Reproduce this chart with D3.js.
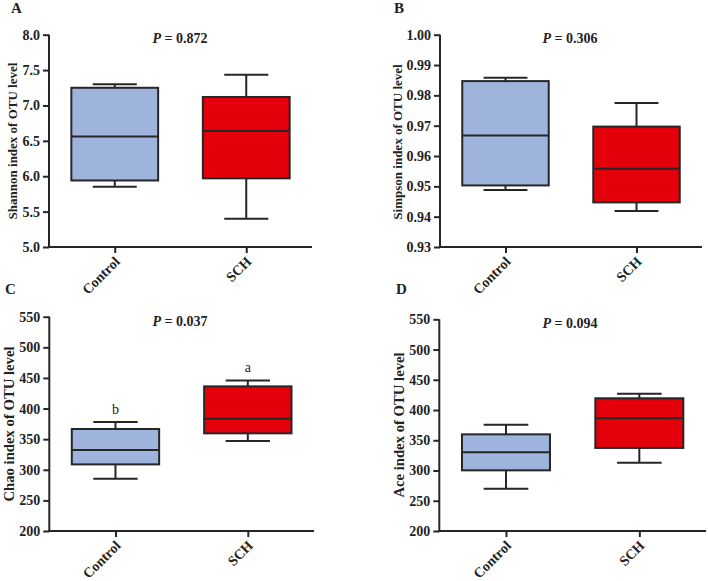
<!DOCTYPE html>
<html>
<head>
<meta charset="utf-8">
<script src="https://cdn.jsdelivr.net/npm/d3@7"></script>
<style>
  html, body { margin: 0; padding: 0; background: #fff; }
  svg { display: block; }
  text { font-family: "Liberation Serif", "Times New Roman", serif; fill: #222; }
</style>
</head>
<body>
<svg id="chart" width="708" height="581"></svg>
<script>
// ---- data ----
const groups = ["Control", "SCH"];
// [whiskerLow, q1, median, q3, whiskerHigh]
const shannonControl = [5.85, 5.94, 6.56, 7.25, 7.30];
const shannonSCH     = [5.40, 5.97, 6.64, 7.12, 7.435];
const simpsonControl = [0.9488, 0.9503, 0.9668, 0.9847, 0.9858];
const simpsonSCH     = [0.9419, 0.9447, 0.9558, 0.9697, 0.9775];
const chaoControl    = [285.4, 308.8, 332.3, 366.6, 378];
const chaoSCH        = [347, 359.5, 383.4, 436.2, 446];
const aceControl     = [270, 300.3, 330, 359.8, 375.8];
const aceSCH         = [313, 337.3, 386.3, 419.4, 427];
const shannonTicks = [5.0, 5.5, 6.0, 6.5, 7.0, 7.5, 8.0];
const simpsonTicks = [0.93, 0.94, 0.95, 0.96, 0.97, 0.98, 0.99, 1.00];
const countTicks   = [200, 250, 300, 350, 400, 450, 500, 550];
const panelLetters = ["A", "B", "C", "D"];
const yTitles = ["Shannon index of OTU level", "Simpson index of OTU level", "Chao index of OTU level", "Ace index of OTU level"];
const pValues = ["0.872", "0.306", "0.037", "0.094"];
const sigLetters = [null, null, ["b", "a"], null];
const fills = ["#9fb4dc", "#e3000b"];

// ---- layout ----
const panels = [
  { data: [shannonControl, shannonSCH], ticks: shannonTicks, fmt: d3.format(".1f"),
    x0: 49, x1: 312, yTop: 34.7, yBot: 247, letter: [11, 13], title: [12.5, 141], titleSize: 13,
    pPos: [180, 43] },
  { data: [simpsonControl, simpsonSCH], ticks: simpsonTicks, fmt: d3.format(".2f"),
    x0: 440, x1: 702, yTop: 34.7, yBot: 247, letter: [394, 13], title: [397, 142], titleSize: 13,
    pPos: [570, 43] },
  { data: [chaoControl, chaoSCH], ticks: countTicks, fmt: d3.format("d"),
    x0: 49.3, x1: 314, yTop: 316.7, yBot: 531, letter: [5, 294], title: [9, 424], titleSize: 14.7,
    pPos: [180, 326] },
  { data: [aceControl, aceSCH], ticks: countTicks, fmt: d3.format("d"),
    x0: 439.3, x1: 706, yTop: 319.3, yBot: 531, letter: [396, 294], title: [399, 425], titleSize: 14.7,
    pPos: [570, 328] }
];

const svg = d3.select("#chart");
const stroke = "#262626";
const serif = '"Liberation Serif", "Times New Roman", serif';

panels.forEach((p, i) => {
  const g = svg.append("g");
  const y = d3.scaleLinear()
    .domain([p.ticks[0], p.ticks[p.ticks.length - 1]])
    .range([p.yBot, p.yTop]);
  const x = d3.scalePoint().domain(groups).range([p.x0, p.x1]).padding(0.5);
  const step = x.step();
  const bw = step * 0.66;
  const cw = step * 0.335;

  // boxes
  p.data.forEach((v, k) => {
    const cx = x(groups[k]);
    const [lo, q1, med, q3, hi] = v;
    const bg = g.append("g").attr("stroke", stroke).attr("stroke-width", 2);
    bg.append("line").attr("x1", cx).attr("x2", cx).attr("y1", y(hi)).attr("y2", y(q3));
    bg.append("line").attr("x1", cx).attr("x2", cx).attr("y1", y(q1)).attr("y2", y(lo));
    bg.append("line").attr("x1", cx - cw / 2).attr("x2", cx + cw / 2).attr("y1", y(hi)).attr("y2", y(hi));
    bg.append("line").attr("x1", cx - cw / 2).attr("x2", cx + cw / 2).attr("y1", y(lo)).attr("y2", y(lo));
    bg.append("rect").attr("x", cx - bw / 2).attr("width", bw)
      .attr("y", y(q3)).attr("height", y(q1) - y(q3)).attr("fill", fills[k]);
    bg.append("line").attr("x1", cx - bw / 2).attr("x2", cx + bw / 2).attr("y1", y(med)).attr("y2", y(med));
    if (sigLetters[i]) {
      g.append("text").attr("x", cx).attr("y", y(hi) - 8)
        .attr("text-anchor", "middle").style("font-size", "14px")
        .text(sigLetters[i][k]);
    }
  });

  // y axis
  const ya = g.append("g").attr("transform", `translate(${p.x0},0)`)
    .call(d3.axisLeft(y).tickValues(p.ticks).tickFormat(p.fmt).tickSize(6).tickPadding(3));
  ya.attr("font-family", serif);
  ya.select(".domain").attr("stroke", stroke).attr("stroke-width", 2).attr("d", `M0,${p.yTop}V${p.yBot}`);
  ya.selectAll(".tick line").attr("stroke", stroke).attr("stroke-width", 2);
  ya.selectAll(".tick text").style("font-size", "14px").style("font-weight", "bold")
    .style("font-family", serif).attr("fill", "#222");

  // x axis
  const xa = g.append("g").attr("transform", `translate(0,${p.yBot})`)
    .call(d3.axisBottom(x).tickSize(6).tickPadding(3));
  xa.attr("font-family", serif);
  xa.select(".domain").attr("stroke", stroke).attr("stroke-width", 2).attr("d", `M${p.x0 - 1},0H${p.x1}`);
  xa.selectAll(".tick line").attr("stroke", stroke).attr("stroke-width", 2);
  xa.selectAll(".tick text")
    .style("font-size", "14px").style("font-weight", "bold")
    .style("font-family", serif).attr("fill", "#222")
    .attr("text-anchor", "end").attr("dy", "0.35em")
    .attr("transform", "translate(2,12) rotate(-45)").attr("y", 0).attr("x", 0);

  // P label
  const pt = g.append("text").attr("x", p.pPos[0]).attr("y", p.pPos[1])
    .attr("text-anchor", "middle").style("font-size", "14px").style("font-weight", "bold");
  pt.append("tspan").style("font-style", "italic").text("P");
  pt.append("tspan").text(" = " + pValues[i]);

  // y title
  g.append("text").attr("transform", `translate(${p.title[0]},${p.title[1]}) rotate(-90)`)
    .attr("text-anchor", "middle").attr("dy", "0.35em")
    .style("font-size", p.titleSize + "px").style("font-weight", "bold")
    .text(yTitles[i]);

  // panel letter
  g.append("text").attr("x", p.letter[0]).attr("y", p.letter[1])
    .style("font-size", "15px").style("font-weight", "bold").text(panelLetters[i]);
});
</script>
</body>
</html>
